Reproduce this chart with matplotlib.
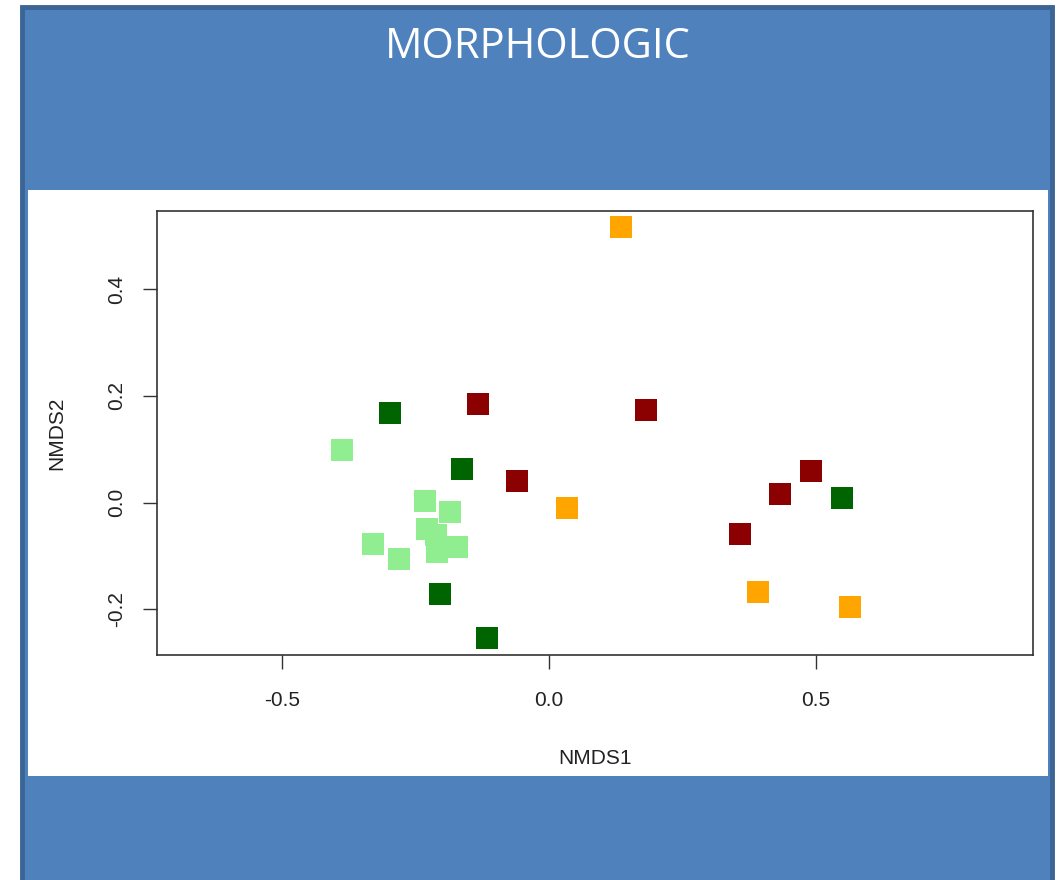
import matplotlib.pyplot as plt
from matplotlib.patches import Rectangle

# -----------------------------
# NMDS scores by group
# -----------------------------
light_x = [-0.388, -0.232, -0.185, -0.228, -0.212, -0.210, -0.172, -0.330, -0.281]
light_y = [0.099, 0.003, -0.018, -0.050, -0.061, -0.093, -0.083, -0.078, -0.106]

dark_x = [-0.298, -0.163, -0.204, -0.116, 0.549]
dark_y = [0.168, 0.063, -0.171, -0.254, 0.009]

red_x = [-0.133, -0.060, 0.182, 0.491, 0.433, 0.358]
red_y = [0.185, 0.041, 0.173, 0.059, 0.016, -0.059]

orange_x = [0.135, 0.034, 0.391, 0.564]
orange_y = [0.516, -0.010, -0.168, -0.196]

x_ticks = [-0.5, 0.0, 0.5]
y_ticks = [-0.2, 0.0, 0.2, 0.4]

W, H = 1058, 880
fig = plt.figure(figsize=(W / 100, H / 100), dpi=100, facecolor="white")

# slide-like panel: blue background with darker border, white plot area
panel = Rectangle((22 / W, -0.05), 1030 / W, 1.05 - 7 / H, transform=fig.transFigure,
                  facecolor="#4F81BD", edgecolor="#3A6595", linewidth=3.5, zorder=-2)
fig.patches.append(panel)
white = Rectangle((28 / W, 1 - 776 / H), 1020 / W, 586 / H, transform=fig.transFigure,
                  facecolor="white", edgecolor="none", zorder=-1)
fig.patches.append(white)

fig.text(538 / W, 1 - 47 / H, "MORPHOLOGIC", color="white", fontsize=30,
         family="Open Sans", ha="center", va="center")

ax = fig.add_axes([157 / W, 1 - 655 / H, 876 / W, 444 / H])
ax.set_facecolor("none")

ms = 16
ax.plot(light_x, light_y, "s", color="#90EE90", markersize=ms, markeredgewidth=0)
ax.plot(dark_x, dark_y, "s", color="#006400", markersize=ms, markeredgewidth=0)
ax.plot(red_x, red_y, "s", color="#8B0000", markersize=ms, markeredgewidth=0)
ax.plot(orange_x, orange_y, "s", color="#FFA500", markersize=ms, markeredgewidth=0)

ax.set_xlim(-0.734, 0.906)
ax.set_ylim(-0.2857, 0.5466)

ax.set_xticks(x_ticks)
ax.set_xticklabels(["-0.5", "0.0", "0.5"])
ax.set_yticks(y_ticks)
ax.set_yticklabels(["-0.2", "0.0", "0.2", "0.4"], rotation=90, va="center")

for s in ax.spines.values():
    s.set_color("#333333")
    s.set_linewidth(1.2)

ax.tick_params(axis="both", length=10, width=1.0, color="#333333",
               labelsize=15, labelcolor="#222222")
ax.tick_params(axis="x", pad=16)
ax.tick_params(axis="y", pad=12)
for lbl in ax.get_xticklabels() + ax.get_yticklabels():
    lbl.set_family("Liberation Sans")

ax.set_xlabel("NMDS1", fontsize=15, family="Liberation Sans", color="#222222", labelpad=28)
ax.set_ylabel("NMDS2", fontsize=15, family="Liberation Sans", color="#222222", labelpad=30)

fig.savefig("out.png", dpi=100, facecolor=fig.get_facecolor())
